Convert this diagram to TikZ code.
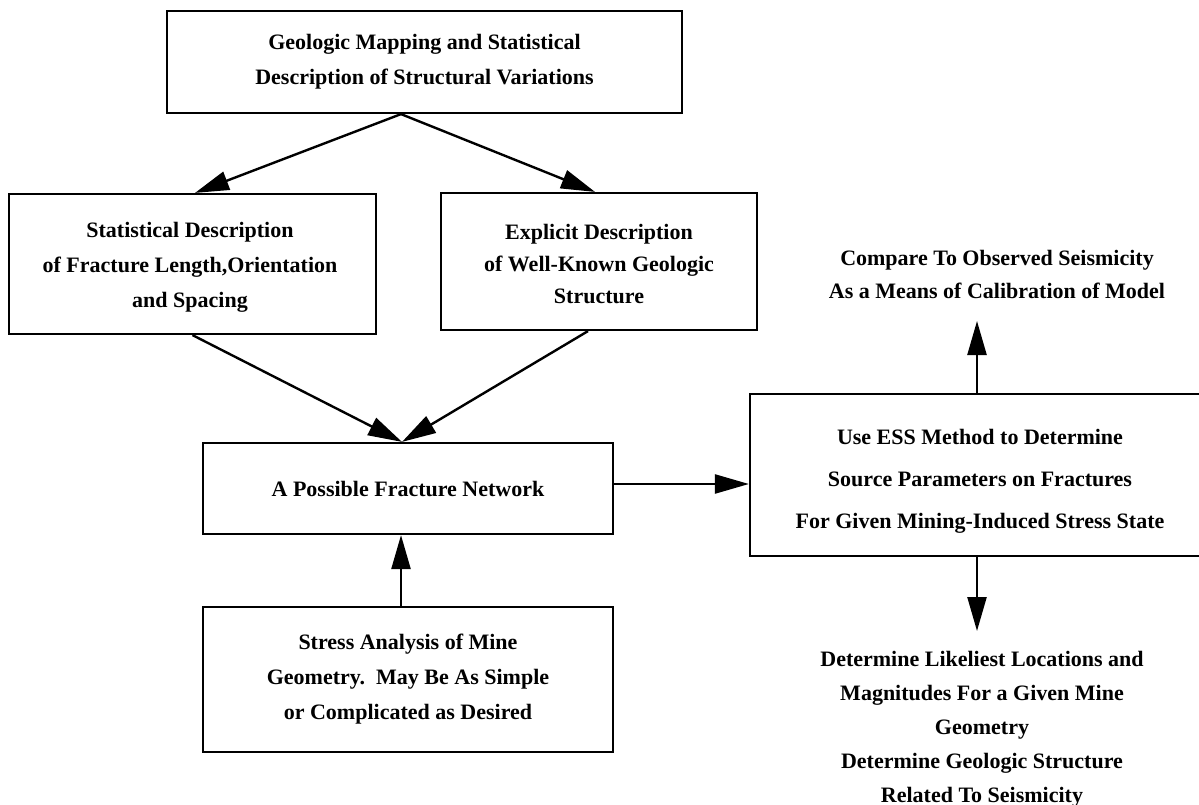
\documentclass[tikz,border=0pt]{standalone}
\usepackage{fontspec}
\setmainfont{Liberation Serif}
\usetikzlibrary{arrows.meta}
\tikzset{
  box/.style={draw, line width=2.2pt, inner sep=0pt, align=center,
    font=\fontsize{22}{35}\selectfont\bfseries},
  plain/.style={inner sep=0pt, align=center,
    font=\fontsize{22}{34}\selectfont\bfseries},
  arr/.style={line width=2.4pt, -{Triangle[length=34pt,width=19pt]}},
}
\begin{document}
\begin{tikzpicture}[x=1pt,y=-1pt]
\useasboundingbox[fill=white] (0,0) rectangle (1199,805);
\node[box, minimum width=515pt, minimum height=102pt] (top) at (424.5,62) {Geologic Mapping and Statistical\\Description of Structural Variations};
\node[box, minimum width=367pt, minimum height=140pt] (left) at (192.5,264) {};
\node[plain, font=\fontsize{22}{35}\selectfont\bfseries] (leftText) at (190,267) {Statistical Description\\of Fracture Length,Orientation\\and Spacing};
\node[box, minimum width=316pt, minimum height=137pt] (mid) at (599,261.5) {};
\node[plain, font=\fontsize{22}{32}\selectfont\bfseries] (midText) at (599,264) {Explicit Description\\of Well-Known Geologic\\Structure};
\node[box, minimum width=410pt, minimum height=91pt] (ctr) at (408,488.5) {A Possible Fracture Network};
\node[box, minimum width=410pt, minimum height=145pt] (bot) at (408,679.5) {Stress Analysis of Mine\\Geometry.\ \ May Be As Simple\\or Complicated as Desired};
\node[box, minimum width=453pt, minimum height=162pt] (rb) at (976.5,475) {};
\node[plain, font=\fontsize{22}{42}\selectfont\bfseries] (rbText) at (980,481) {Use ESS Method to Determine\\Source Parameters on Fractures\\For Given Mining-Induced Stress State};
\node[plain, font=\fontsize{22}{33}\selectfont\bfseries] (cmp) at (997,274) {Compare To Observed Seismicity\\As a Means of Calibration of Model};
\node[plain] (det) at (982,729) {Determine Likeliest Locations and\\Magnitudes For a Given Mine\\Geometry\\Determine Geologic Structure\\Related To Seismicity};
\coordinate (upTip) at (977,321);
\coordinate (downTip) at (977,631);
\draw[arr] ([xshift=-23.5pt]top.south) -- ([xshift=2.5pt]left.north);
\draw[arr] ([xshift=-23.5pt]top.south) -- ([xshift=-4pt]mid.north);
\draw[arr] (left.south) -- ([xshift=-6pt]ctr.north);
\draw[arr] ([xshift=-11pt]mid.south) -- ([xshift=-6pt]ctr.north);
\draw[arr] ([xshift=-7pt]bot.north) -- ([xshift=-7pt]ctr.south);
\draw[arr] ([yshift=4.5pt]ctr.east) -- ([yshift=-9pt]rb.west);
\draw[arr] ([xshift=0.5pt]rb.north) -- (upTip);
\draw[arr] ([xshift=0.5pt]rb.south) -- (downTip);
\end{tikzpicture}
\end{document}
